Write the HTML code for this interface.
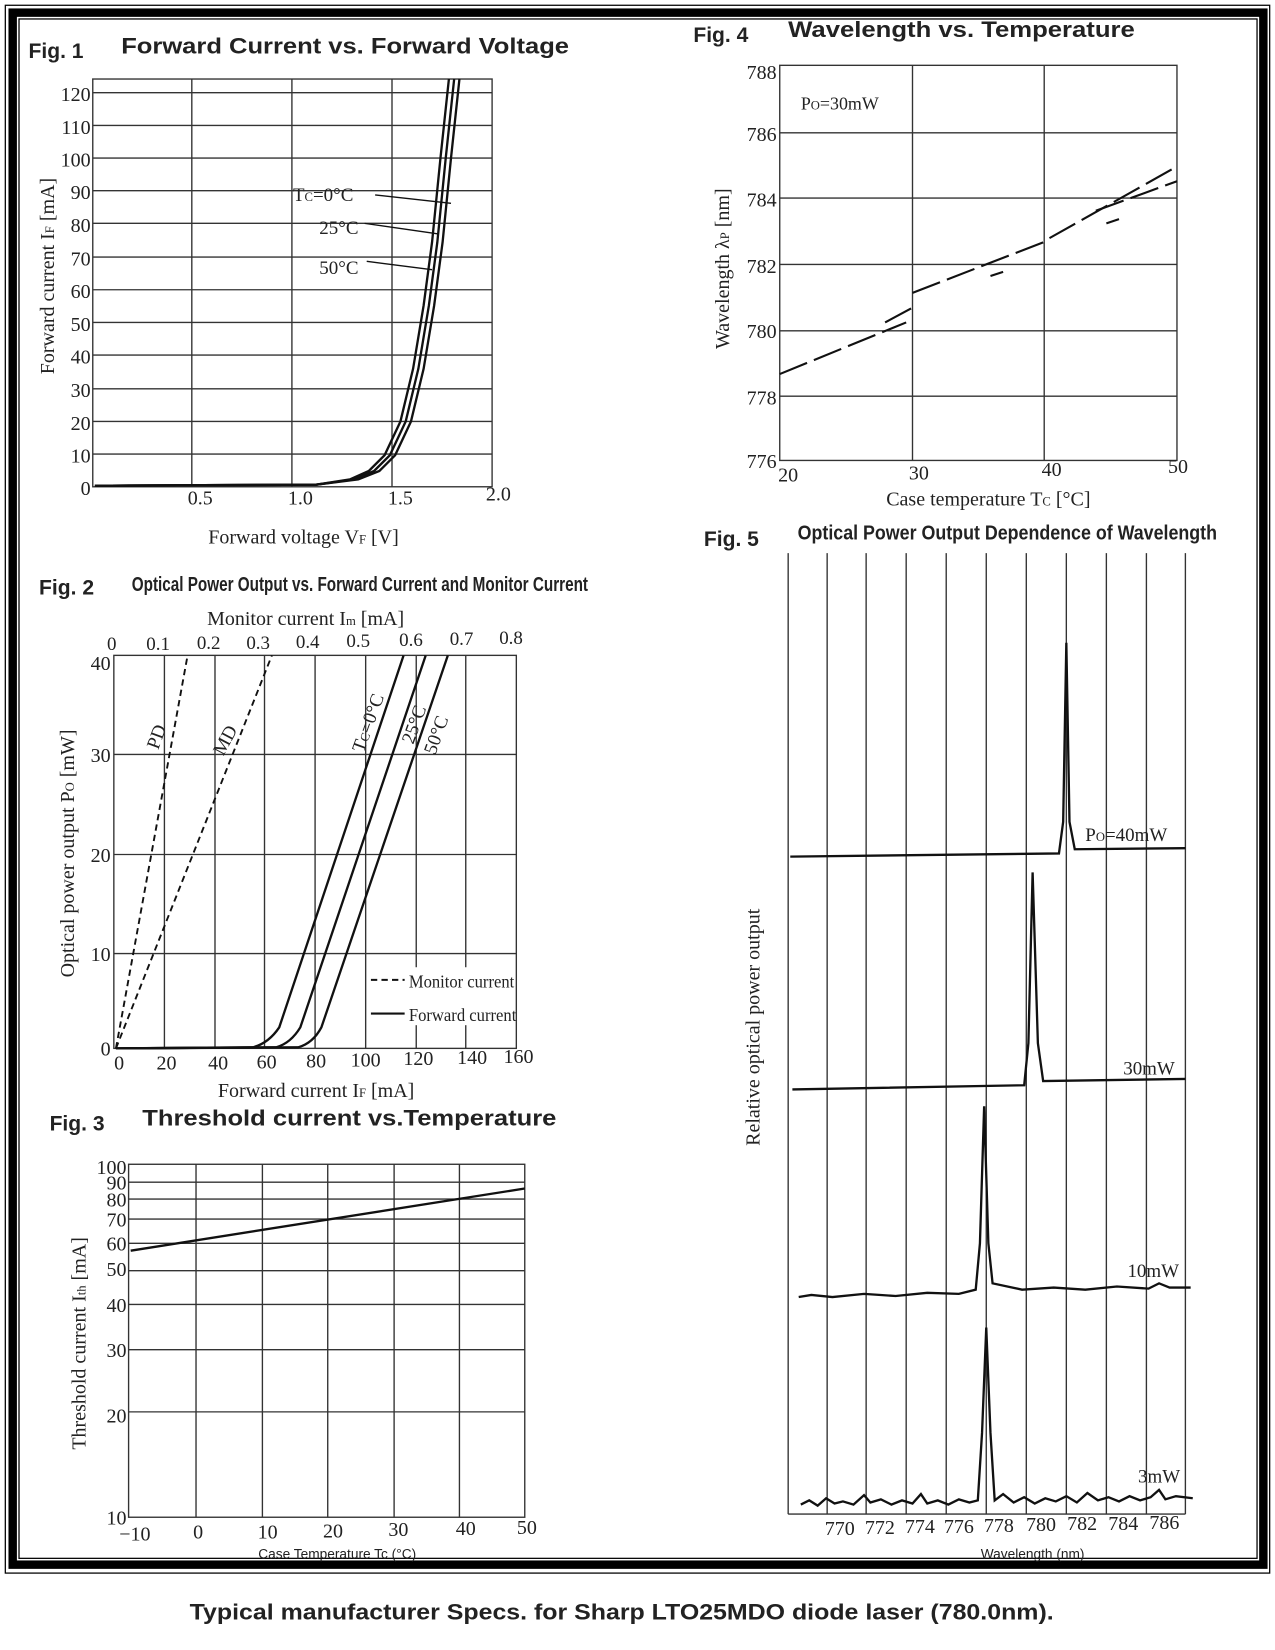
<!DOCTYPE html>
<html><head><meta charset="utf-8"><style>
html,body{margin:0;padding:0;background:#fff;}
svg{display:block;}
.t{font-family:"Liberation Serif",serif;fill:#222;}
.s{font-family:"Liberation Sans",sans-serif;fill:#222;}
.g{stroke:#333;stroke-width:1.3;fill:none;}
.c{stroke:#111;stroke-width:2.2;fill:none;}
</style></head><body>
<svg width="1275" height="1650" viewBox="0 0 1210 1566" xmlns="http://www.w3.org/2000/svg">
<rect x="0" y="0" width="1210" height="1566" fill="#fff"/>
<rect x="5" y="5" width="1200" height="1488" fill="none" stroke="#000" stroke-width="1.2"/>
<rect x="12" y="12" width="1187" height="1473" fill="none" stroke="#000" stroke-width="8"/>
<rect x="18" y="18" width="1175" height="1461" fill="none" stroke="#000" stroke-width="1.2"/>

<!-- ===== Fig 1 ===== -->
<text x="27" y="55" class="s" font-size="20" font-weight="bold">Fig. 1</text>
<text x="115" y="51" class="s" font-size="21" font-weight="bold" textLength="425" lengthAdjust="spacingAndGlyphs">Forward Current vs. Forward Voltage</text>
<g class="g">
<rect x="88" y="75" width="379" height="387"/>
<line x1="88" y1="431" x2="467" y2="431"/><line x1="88" y1="400" x2="467" y2="400"/>
<line x1="88" y1="369" x2="467" y2="369"/><line x1="88" y1="337" x2="467" y2="337"/>
<line x1="88" y1="306" x2="467" y2="306"/><line x1="88" y1="275" x2="467" y2="275"/>
<line x1="88" y1="244" x2="467" y2="244"/><line x1="88" y1="212" x2="467" y2="212"/>
<line x1="88" y1="181" x2="467" y2="181"/><line x1="88" y1="150" x2="467" y2="150"/>
<line x1="88" y1="119" x2="467" y2="119"/><line x1="88" y1="88" x2="467" y2="88"/>
<line x1="182" y1="75" x2="182" y2="462"/><line x1="277" y1="75" x2="277" y2="462"/>
<line x1="372" y1="75" x2="372" y2="462"/>
</g>
<g class="t" font-size="19" text-anchor="end">
<text x="86" y="96">120</text><text x="86" y="127">110</text><text x="86" y="158">100</text>
<text x="86" y="189">90</text><text x="86" y="220">80</text><text x="86" y="252">70</text>
<text x="86" y="283">60</text><text x="86" y="314">50</text><text x="86" y="345">40</text>
<text x="86" y="377">30</text><text x="86" y="408">20</text><text x="86" y="439">10</text>
<text x="86" y="470">0</text>
</g>
<g class="t" font-size="19" text-anchor="middle">
<text x="190" y="479">0.5</text><text x="285" y="479">1.0</text><text x="380" y="479">1.5</text><text x="473" y="475">2.0</text>
</g>
<text x="288" y="516" class="t" font-size="19" text-anchor="middle">Forward voltage V<tspan font-size="12">F</tspan> [V]</text>
<text transform="translate(51,262) rotate(-90)" class="t" font-size="19" text-anchor="middle">Forward current I<tspan font-size="12">F</tspan> [mA]</text>
<path class="c" d="M90,461 L300,460 L340,455 L360,447 L375,432 L390,400 L402,350 L412,290 L420,230 L428,150 L436,75"/>
<path class="c" d="M90,461 L300,460 L336,455 L355,447 L370,432 L385,400 L397,350 L407,290 L415,230 L423,150 L431,75"/>
<path class="c" d="M90,461 L300,460 L332,455 L350,447 L365,432 L380,400 L392,350 L402,290 L410,230 L418,150 L426,75"/>
<text x="278" y="191" class="t" font-size="18">T<tspan font-size="12">C</tspan>=0°C</text>
<text x="303" y="222" class="t" font-size="18">25°C</text>
<text x="303" y="260" class="t" font-size="18">50°C</text>
<g stroke="#111" stroke-width="1.3" fill="none">
<path d="M356,185 L428,193"/><path d="M346,212 L416,222"/><path d="M348,248 L410,256"/>
</g>

<!-- ===== Fig 2 ===== -->
<text x="37" y="564" class="s" font-size="20" font-weight="bold">Fig. 2</text>
<text x="125" y="561" class="s" font-size="19" font-weight="bold" textLength="433" lengthAdjust="spacingAndGlyphs">Optical Power Output vs. Forward Current and Monitor Current</text>
<text x="290" y="593" class="t" font-size="19" text-anchor="middle">Monitor current I<tspan font-size="12">m</tspan> [mA]</text>
<g class="t" font-size="18" text-anchor="middle">
<text x="106" y="617">0</text><text x="150" y="617">0.1</text><text x="198" y="616">0.2</text>
<text x="245" y="616">0.3</text><text x="292" y="615">0.4</text><text x="340" y="614">0.5</text>
<text x="390" y="613">0.6</text><text x="438" y="612">0.7</text><text x="485" y="611">0.8</text>
</g>
<g class="g">
<rect x="108" y="622" width="382" height="373"/>
<line x1="108" y1="905" x2="490" y2="905"/><line x1="108" y1="811" x2="490" y2="811"/>
<line x1="108" y1="716" x2="490" y2="716"/>
<line x1="156" y1="622" x2="156" y2="995"/><line x1="204" y1="622" x2="204" y2="995"/>
<line x1="251" y1="622" x2="251" y2="995"/><line x1="299" y1="622" x2="299" y2="995"/>
<line x1="347" y1="622" x2="347" y2="995"/><line x1="395" y1="622" x2="395" y2="995"/>
<line x1="442" y1="622" x2="442" y2="995"/>
</g>
<g class="t" font-size="19" text-anchor="end">
<text x="105" y="636">40</text><text x="105" y="723">30</text><text x="105" y="818">20</text>
<text x="105" y="912">10</text><text x="105" y="1002">0</text>
</g>
<g class="t" font-size="19" text-anchor="middle">
<text x="113" y="1015">0</text><text x="158" y="1015">20</text><text x="207" y="1015">40</text>
<text x="253" y="1014">60</text><text x="300" y="1013">80</text><text x="347" y="1012">100</text>
<text x="397" y="1011">120</text><text x="448" y="1010">140</text><text x="492" y="1009">160</text>
</g>
<text x="300" y="1041" class="t" font-size="19" text-anchor="middle">Forward current I<tspan font-size="12">F</tspan> [mA]</text>
<text transform="translate(70,810) rotate(-90)" class="t" font-size="19" text-anchor="middle">Optical power output P<tspan font-size="12">O</tspan> [mW]</text>
<g stroke="#111" stroke-width="1.8" fill="none" stroke-dasharray="6,4">
<line x1="110" y1="995" x2="178" y2="622"/><line x1="110" y1="995" x2="258" y2="622"/>
<line x1="352" y1="930" x2="384" y2="930"/>
</g>
<path class="c" d="M110,995 L240,994 Q255,990 265,975 L383,622"/>
<path class="c" d="M110,995 L262,994 Q276,990 285,975 L404,622"/>
<path class="c" d="M110,995 L283,994 Q297,990 305,975 L425,622"/>
<line x1="352" y1="962" x2="384" y2="962" stroke="#111" stroke-width="2"/>
<rect x="386" y="918" width="102" height="55" fill="#fff"/>
<text x="388" y="937" class="t" font-size="17" textLength="100" lengthAdjust="spacingAndGlyphs">Monitor current</text>
<text x="388" y="969" class="t" font-size="17" textLength="102" lengthAdjust="spacingAndGlyphs">Forward current</text>
<text transform="translate(150,712) rotate(-70)" class="t" font-size="18">PD</text>
<text transform="translate(212,718) rotate(-62)" class="t" font-size="18">MD</text>
<text transform="translate(345,715) rotate(-70)" class="t" font-size="18">T<tspan font-size="12">C</tspan>=0°C</text>
<text transform="translate(392,707) rotate(-70)" class="t" font-size="18">25°C</text>
<text transform="translate(413,717) rotate(-70)" class="t" font-size="18">50°C</text>

<!-- ===== Fig 3 ===== -->
<text x="47" y="1073" class="s" font-size="20" font-weight="bold">Fig. 3</text>
<text x="135" y="1068" class="s" font-size="21" font-weight="bold" textLength="393" lengthAdjust="spacingAndGlyphs">Threshold current vs.Temperature</text>
<g class="g">
<rect x="122" y="1105" width="376" height="335"/>
<line x1="122" y1="1122" x2="498" y2="1122"/><line x1="122" y1="1138" x2="498" y2="1138"/>
<line x1="122" y1="1157" x2="498" y2="1157"/><line x1="122" y1="1180" x2="498" y2="1180"/>
<line x1="122" y1="1206" x2="498" y2="1206"/><line x1="122" y1="1238" x2="498" y2="1238"/>
<line x1="122" y1="1281" x2="498" y2="1281"/><line x1="122" y1="1340" x2="498" y2="1340"/>
<line x1="186" y1="1105" x2="186" y2="1440"/><line x1="249" y1="1105" x2="249" y2="1440"/>
<line x1="311" y1="1105" x2="311" y2="1440"/><line x1="374" y1="1105" x2="374" y2="1440"/>
<line x1="436" y1="1105" x2="436" y2="1440"/>
</g>
<g class="t" font-size="19" text-anchor="end">
<text x="120" y="1114">100</text><text x="120" y="1129">90</text><text x="120" y="1145">80</text>
<text x="120" y="1164">70</text><text x="120" y="1187">60</text><text x="120" y="1211">50</text>
<text x="120" y="1245">40</text><text x="120" y="1288">30</text><text x="120" y="1350">20</text>
<text x="120" y="1447">10</text>
</g>
<g class="t" font-size="19" text-anchor="middle">
<text x="128" y="1462">−10</text><text x="188" y="1460">0</text><text x="254" y="1460">10</text>
<text x="316" y="1459">20</text><text x="378" y="1458">30</text><text x="442" y="1457">40</text>
<text x="500" y="1456">50</text>
</g>
<path class="c" d="M124,1187 L498,1128"/>
<text transform="translate(81,1275) rotate(-90)" class="t" font-size="19" text-anchor="middle">Threshold current I<tspan font-size="12">th</tspan> [mA]</text>
<text x="320" y="1479" class="s" font-size="13" text-anchor="middle">Case Temperature Tc (°C)</text>

<!-- ===== Fig 4 ===== -->
<text x="658" y="40" class="s" font-size="20" font-weight="bold">Fig. 4</text>
<text x="748" y="35" class="s" font-size="21" font-weight="bold" textLength="329" lengthAdjust="spacingAndGlyphs">Wavelength vs. Temperature</text>
<g class="g">
<rect x="740" y="62" width="377" height="375"/>
<line x1="740" y1="126" x2="1117" y2="126"/><line x1="740" y1="188" x2="1117" y2="188"/>
<line x1="740" y1="251" x2="1117" y2="251"/><line x1="740" y1="314" x2="1117" y2="314"/>
<line x1="740" y1="376" x2="1117" y2="376"/>
<line x1="866" y1="62" x2="866" y2="437"/><line x1="991" y1="62" x2="991" y2="437"/>
</g>
<g class="t" font-size="19" text-anchor="end">
<text x="737" y="75">788</text><text x="737" y="134">786</text><text x="737" y="196">784</text>
<text x="737" y="259">782</text><text x="737" y="321">780</text><text x="737" y="384">778</text>
<text x="737" y="444">776</text>
</g>
<g class="t" font-size="19" text-anchor="middle">
<text x="748" y="457">20</text><text x="872" y="455">30</text><text x="998" y="452">40</text><text x="1118" y="449">50</text>
</g>
<text x="938" y="480" class="t" font-size="19" text-anchor="middle">Case temperature T<tspan font-size="12">C</tspan> [°C]</text>
<text transform="translate(692,255) rotate(-90)" class="t" font-size="19" text-anchor="middle">Wavelength λ<tspan font-size="12">P</tspan> [nm]</text>
<text x="760" y="104" class="t" font-size="17">P<tspan font-size="12">O</tspan>=30mW</text>
<g stroke="#111" stroke-width="2" fill="none" stroke-dasharray="28,7">
<path d="M740,355 L860,306"/><path d="M866,278 L990,230"/><path d="M996,226 L1117,158"/>
<path d="M840,306 L866,292"/><path d="M940,262 L952,258"/><path d="M1050,212 L1062,208"/>
<path d="M1040,200 L1117,172"/>
</g>

<!-- ===== Fig 5 ===== -->
<text x="668" y="518" class="s" font-size="20" font-weight="bold">Fig. 5</text>
<text x="757" y="512" class="s" font-size="19" font-weight="bold" textLength="398" lengthAdjust="spacingAndGlyphs">Optical Power Output Dependence of Wavelength</text>
<g class="g">
<line x1="748" y1="525" x2="748" y2="1437"/><line x1="785" y1="525" x2="785" y2="1437"/>
<line x1="822" y1="525" x2="822" y2="1437"/><line x1="860" y1="525" x2="860" y2="1437"/>
<line x1="898" y1="525" x2="898" y2="1437"/><line x1="936" y1="525" x2="936" y2="1437"/>
<line x1="974" y1="525" x2="974" y2="1437"/><line x1="1012" y1="525" x2="1012" y2="1437"/>
<line x1="1050" y1="525" x2="1050" y2="1437"/><line x1="1088" y1="525" x2="1088" y2="1437"/>
<line x1="1125" y1="525" x2="1125" y2="1437"/>
<line x1="748" y1="1437" x2="1125" y2="1437"/>
</g>
<g class="t" font-size="19" text-anchor="middle">
<text x="797" y="1457">770</text><text x="835" y="1456">772</text><text x="873" y="1455">774</text>
<text x="910" y="1455">776</text><text x="948" y="1454">778</text><text x="988" y="1453">780</text>
<text x="1027" y="1452">782</text><text x="1066" y="1452">784</text><text x="1105" y="1451">786</text>
</g>
<text x="980" y="1479" class="s" font-size="13" text-anchor="middle">Wavelength (nm)</text>
<text transform="translate(721,975) rotate(-90)" class="t" font-size="19" text-anchor="middle">Relative optical power output</text>
<path class="c" d="M750,813 L1005,810 L1009,780 L1012,610 L1015,780 L1020,806 L1125,805"/>
<path class="c" d="M752,1034 L972,1030 L976,990 L980,828 L985,990 L990,1026 L1125,1024"/>
<path class="c" d="M758,1231 L770,1229 L790,1231 L820,1228 L850,1230 L880,1227 L910,1228 L926,1224 L930,1180 L934,1050 L938,1180 L942,1218 L970,1224 L1000,1222 L1030,1224 L1060,1221 L1090,1223 L1100,1218 L1110,1222 L1130,1222"/>
<path class="c" d="M760,1428 L768,1424 L776,1429 L784,1422 L792,1427 L800,1425 L810,1428 L820,1419 L826,1426 L836,1423 L846,1428 L856,1424 L866,1427 L874,1418 L880,1427 L890,1424 L900,1428 L910,1423 L920,1426 L928,1424 L932,1360 L936,1260 L940,1360 L944,1424 L952,1418 L962,1426 L972,1421 L982,1427 L992,1422 L1002,1425 L1012,1420 L1022,1426 L1032,1417 L1042,1424 L1052,1421 L1062,1425 L1072,1420 L1082,1424 L1092,1421 L1100,1414 L1106,1423 L1116,1420 L1132,1422"/>
<text x="1030" y="798" class="t" font-size="18">P<tspan font-size="12">O</tspan>=40mW</text>
<text x="1066" y="1020" class="t" font-size="18">30mW</text>
<text x="1070" y="1212" class="t" font-size="18">10mW</text>
<text x="1080" y="1407" class="t" font-size="18">3mW</text>

<text x="180" y="1537" class="s" font-size="21" font-weight="bold" textLength="820" lengthAdjust="spacingAndGlyphs">Typical manufacturer Specs. for Sharp LTO25MDO diode laser (780.0nm).</text>
</svg>
</body></html>
